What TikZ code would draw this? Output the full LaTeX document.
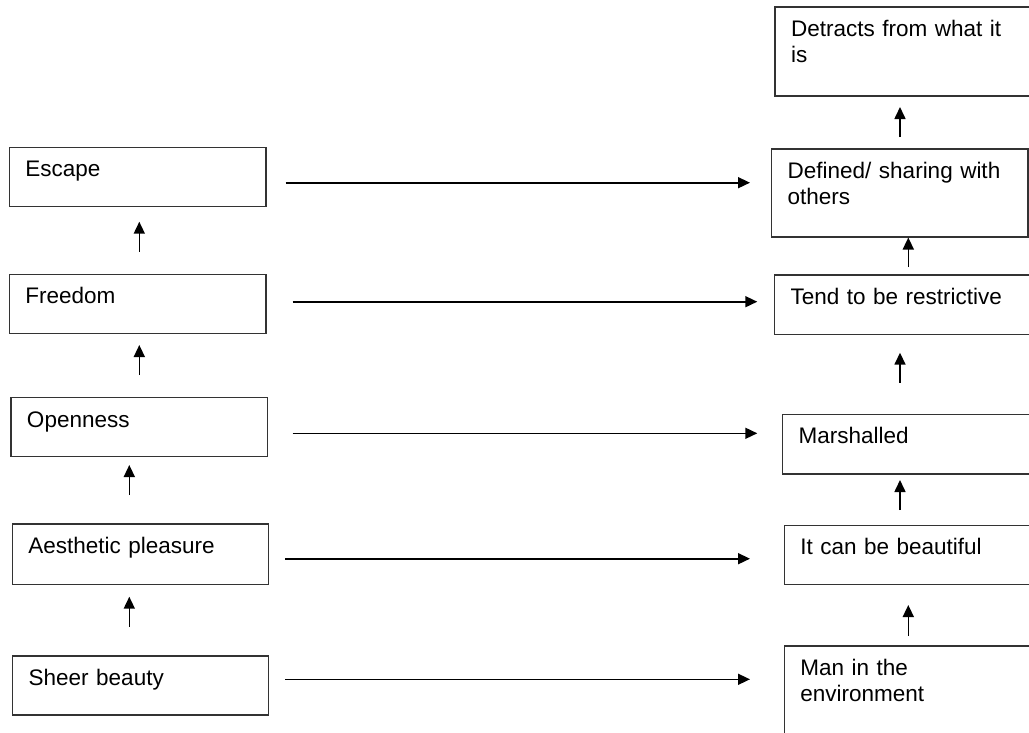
\documentclass[tikz,border=0pt]{standalone}
\usepackage{fontspec}
\setmainfont{Liberation Sans}[WordSpace=0.85]
\usetikzlibrary{arrows.meta}

\begin{document}
\begin{tikzpicture}[x=1pt, y=-1pt,
  box/.style={draw=black!80, line width=1.5pt, anchor=north west,
    inner xsep=16pt, inner ysep=0pt, outer sep=0pt, align=left,
    font=\fontsize{22.5}{26}\selectfont, text height=29.5pt},
  arr/.style={line width=1.6pt, -{Triangle[length=12pt,width=11pt]}}
]
\clip (0,0) rectangle (1029,732);

% left column
\node[box, text width=224.7pt, text depth=29.9pt] (esc)   at (9.3,147.3)  {Escape};
\node[box, text width=224.7pt, text depth=29.5pt] (free)  at (9.3,274.3)  {Freedom};
\node[box, text width=224.3pt, text depth=29.5pt] (open)  at (11,397.7)   {Openness};
\node[box, text width=224.4pt, text depth=30.8pt] (aest)  at (12.3,524)   {Aesthetic pleasure};
\node[box, text width=224pt,   text depth=29.5pt] (sheer) at (12.7,656)   {Sheer beauty};

% right column
\node[box, text width=225pt,   text depth=59.5pt] (detr)  at (775,7)      {Detracts from what it\\is};
\node[box, text width=224.3pt, text depth=58.5pt] (def)   at (771.7,149)  {Defined/ sharing with\\others};
\node[box, text width=225.5pt, text depth=30pt]   (tend)  at (774.5,275)  {Tend to be restrictive};
\node[box, text width=217.3pt, text depth=30.2pt] (marsh) at (782.7,414.3){Marshalled};
\node[box, text width=215.7pt, text depth=29.5pt] (beau)  at (784.3,525.3){It can be beautiful};
\node[box, text width=215.7pt, text depth=64.5pt] (man)   at (784.3,646)  {Man in the\\environment};

% upward arrows, left column
\draw[arr, shorten <=22.6pt, shorten >=15pt]   (free.north -| 139.3,0)  -- (esc.south -| 139.3,0);
\draw[arr, shorten <=22.7pt, shorten >=11.7pt] (open.north -| 139.3,0)  -- (free.south -| 139.3,0);
\draw[arr, shorten <=29pt,   shorten >=8.3pt]  (aest.north -| 129.3,0)  -- (open.south -| 129.3,0);
\draw[arr, shorten <=29.3pt, shorten >=12.4pt] (sheer.north -| 129.3,0) -- (aest.south -| 129.3,0);

% upward arrows, right column
\draw[arr, shorten <=12pt,   shorten >=11pt]   (def.north -| 900,0)     -- (detr.south -| 900,0);
\draw[arr, shorten <=8pt,    shorten >=0.5pt]  (tend.north -| 908.3,0)  -- (def.south -| 908.3,0);
\draw[arr, shorten <=31.6pt, shorten >=18.2pt] (marsh.north -| 900,0)   -- (tend.south -| 900,0);
\draw[arr, shorten <=15.3pt, shorten >=6pt]    (beau.north -| 900,0)    -- (marsh.south -| 900,0);
\draw[arr, shorten <=10pt,   shorten >=20.7pt] (man.north -| 908.3,0)   -- (beau.south -| 908.3,0);

% arrows across
\draw[arr, shorten <=19.7pt, shorten >=21.7pt] (esc.east |- 0,182.7)   -- (def.west |- 0,182.7);
\draw[arr, shorten <=26.7pt, shorten >=17.2pt] (free.east |- 0,301.7)  -- (tend.west |- 0,301.7);
\draw[arr, shorten <=25.4pt, shorten >=25.4pt] (open.east |- 0,433.3)  -- (marsh.west |- 0,433.3);
\draw[arr, shorten <=16.6pt, shorten >=34.3pt] (aest.east |- 0,558.7)  -- (beau.west |- 0,558.7);
\draw[arr, shorten <=16.6pt, shorten >=34.3pt] (sheer.east |- 0,679.3) -- (man.west |- 0,679.3);
\end{tikzpicture}
\end{document}
